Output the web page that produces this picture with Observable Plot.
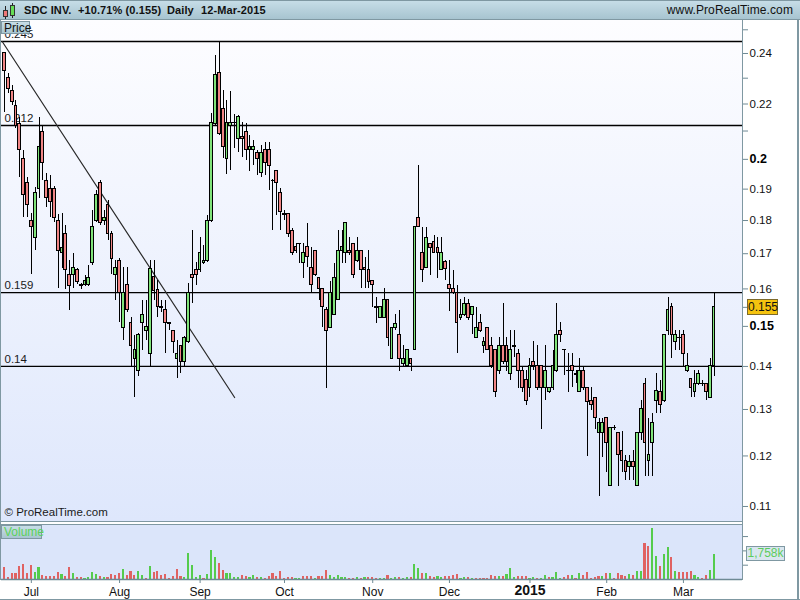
<!DOCTYPE html>
<html><head><meta charset="utf-8">
<script src="https://cdn.jsdelivr.net/npm/d3@7"></script>
<script src="https://cdn.jsdelivr.net/npm/@observablehq/plot@0.6"></script>
<style>
body{margin:0;background:#fff;font-family:"Liberation Sans",Arial,sans-serif;}
#wrap{position:relative;width:800px;height:600px;overflow:hidden;background:#fff;}
.abs{position:absolute;}
#hdr{left:0;top:0;width:800px;height:20px;background:linear-gradient(#c6dde7,#a7c4d0);border-top:1px solid #7f98a2;border-bottom:1px solid #7f98a2;box-sizing:border-box;}
.ht{position:absolute;top:3px;font-size:11px;font-weight:bold;color:#111;white-space:nowrap;letter-spacing:0.1px;}
.box{position:absolute;box-sizing:border-box;border:1px solid #7f98a2;background:linear-gradient(#c8dee7,#a8c5d1);font-size:12px;line-height:12px;padding:0 2px;white-space:nowrap;}
#pbg{left:1px;top:20px;width:741px;height:501px;background:linear-gradient(#fdfdff,#dee7fc);}
#vbg{left:1px;top:524px;width:741px;height:55px;background:#dbe5fa;}
.ln{position:absolute;background:#7f98a2;}
</style></head>
<body><div id="wrap">
<div id="pbg" class="abs"></div>
<div id="vbg" class="abs"></div>
<div id="price" class="abs" style="left:0;top:20px;"></div>
<div id="vol" class="abs" style="left:0;top:524px;"></div>
<div class="ln" style="left:0;top:20px;width:1px;height:560px;"></div>
<div class="ln" style="left:742px;top:20px;width:1px;height:560px;"></div>
<div class="ln" style="left:797px;top:0;width:2px;height:600px;"></div>
<div class="ln" style="left:0;top:521px;width:743px;height:1px;"></div>
<div class="ln" style="left:0;top:524px;width:743px;height:1px;"></div>
<div class="ln" style="left:0;top:599px;width:800px;height:1px;"></div>
<div id="hdr" class="abs">
  <div class="abs" style="left:5px;top:5px;width:1px;height:13px;background:#222"></div>
  <div class="abs" style="left:3px;top:9px;width:5px;height:7px;background:#ee7777;border:1px solid #333;box-sizing:border-box"></div>
  <div class="abs" style="left:12px;top:2px;width:1px;height:15px;background:#222"></div>
  <div class="abs" style="left:10px;top:4px;width:5px;height:11px;background:#66dd55;border:1px solid #333;box-sizing:border-box"></div>
  <span class="ht" style="left:24px">SDC INV.</span>
  <span class="ht" style="left:78px">+10.71% (0.155)</span>
  <span class="ht" style="left:167px">Daily</span>
  <span class="ht" style="left:201px">12-Mar-2015</span>
  <span class="ht" style="right:7px;font-weight:normal;font-size:12px;top:2px">www.ProRealTime.com</span>
</div>
<div class="box" style="left:1px;top:21px;width:29px;height:13px;color:#111">Price</div>
<div class="box" style="left:1px;top:525px;width:41px;height:14px;line-height:13px;color:#5ad25a">Volume</div>
<div id="lastP" class="abs" style="left:747px;width:31px;height:16px;box-sizing:border-box;border:1px solid #7d6a2a;background:#f5c30f;font-size:12px;line-height:14px;text-align:center;color:#111">0.155</div>
<div id="lastV" class="abs" style="left:746px;width:39px;height:15px;box-sizing:border-box;border:1px solid #7f98a2;background:#d9e6ef;font-size:12px;line-height:13px;text-align:center;color:#5ccc5c;white-space:nowrap">1,758k</div>
</div>
<script>
const open = [0.2400,0.2299,0.2248,0.2191,0.2127,0.2000,0.1919,0.1800,0.1748,0.1899,
0.2098,0.1928,0.1899,0.1899,0.1800,0.1701,0.1760,0.1640,0.1640,0.1652,
0.1610,0.1610,0.1610,0.1672,0.1800,0.1919,0.1800,0.1850,0.1760,0.1640,
0.1680,0.1497,0.1610,0.1510,0.1419,0.1390,0.1510,0.1489,0.1431,0.1632,
0.1596,0.1550,0.1542,0.1508,0.1487,0.1419,0.1449,0.1410,0.1459,0.1640,
0.1652,0.1652,0.1672,0.1680,0.1800,0.2127,0.2319,0.2180,0.2000,0.2117,
0.2129,0.2070,0.2080,0.2098,0.2031,0.2031,0.2021,0.1952,0.2031,0.2031,
0.1928,0.1959,0.1889,0.1819,0.1819,0.1769,0.1721,0.1730,0.1672,0.1721,
0.1660,0.1707,0.1629,0.1601,0.1542,0.1497,0.1531,0.1571,0.1709,0.1701,
0.1709,0.1730,0.1680,0.1709,0.1660,0.1652,0.1621,0.1550,0.1521,0.1521,
0.1571,0.1419,0.1497,0.1479,0.1407,0.1400,0.1419,0.1441,0.1809,0.1701,
0.1660,0.1730,0.1736,0.1718,0.1652,0.1675,0.1610,0.1601,0.1590,0.1521,
0.1531,0.1560,0.1531,0.1471,0.1510,0.1449,0.1497,0.1449,0.1441,0.1390,
0.1449,0.1449,0.1381,0.1449,0.1431,0.1390,0.1367,0.1350,0.1410,0.1400,
0.1400,0.1350,0.1339,0.1350,0.1388,0.1489,0.1441,0.1390,0.1400,0.1381,
0.1339,0.1390,0.1350,0.1320,0.1327,0.1249,0.1249,0.1280,0.1140,0.1260,
0.1249,0.1211,0.1190,0.1178,0.1188,0.1140,0.1249,0.1359,0.1190,0.1228,
0.1320,0.1339,0.1320,0.1487,0.1550,0.1459,0.1471,0.1479,0.1390,0.1371,
0.1339,0.1359,0.1359,0.1359,0.1327,0.1400];
const high = [0.2404,0.2319,0.2271,0.2213,0.2150,0.2031,0.1939,0.1822,0.1906,0.2150,
0.2120,0.1952,0.1945,0.1909,0.1819,0.1822,0.1785,0.1680,0.1701,0.1657,
0.1615,0.1637,0.1666,0.1831,0.1896,0.1928,0.1831,0.1863,0.1766,0.1680,
0.1686,0.1660,0.1660,0.1523,0.1477,0.1482,0.1568,0.1568,0.1680,0.1680,
0.1623,0.1568,0.1568,0.1510,0.1489,0.1464,0.1451,0.1474,0.1615,0.1769,
0.1675,0.1748,0.1724,0.1816,0.2165,0.2392,0.2450,0.2252,0.2213,0.2248,
0.2161,0.2157,0.2131,0.2127,0.2084,0.2066,0.2031,0.2048,0.2059,0.2059,
0.1932,0.1959,0.1902,0.1831,0.1819,0.1776,0.1730,0.1730,0.1730,0.1791,
0.1718,0.1709,0.1629,0.1601,0.1550,0.1621,0.1672,0.1769,0.1769,0.1791,
0.1748,0.1730,0.1748,0.1709,0.1689,0.1709,0.1621,0.1576,0.1550,0.1601,
0.1571,0.1497,0.1531,0.1542,0.1451,0.1441,0.1419,0.1779,0.1979,0.1779,
0.1779,0.1730,0.1754,0.1748,0.1748,0.1680,0.1680,0.1652,0.1610,0.1571,
0.1576,0.1571,0.1550,0.1550,0.1531,0.1471,0.1497,0.1471,0.1441,0.1471,
0.1560,0.1471,0.1489,0.1489,0.1441,0.1400,0.1390,0.1419,0.1461,0.1451,
0.1400,0.1451,0.1350,0.1439,0.1560,0.1510,0.1441,0.1431,0.1431,0.1390,
0.1419,0.1400,0.1350,0.1350,0.1327,0.1280,0.1280,0.1280,0.1260,0.1264,
0.1249,0.1251,0.1201,0.1201,0.1211,0.1249,0.1320,0.1371,0.1280,0.1291,
0.1383,0.1367,0.1479,0.1576,0.1560,0.1489,0.1489,0.1489,0.1431,0.1371,
0.1390,0.1390,0.1367,0.1359,0.1419,0.1590];
const low = [0.2168,0.2240,0.2195,0.2109,0.1939,0.1809,0.1809,0.1640,0.1709,0.1870,
0.1928,0.1841,0.1809,0.1794,0.1601,0.1657,0.1598,0.1542,0.1601,0.1612,
0.1598,0.1607,0.1607,0.1666,0.1794,0.1785,0.1785,0.1739,0.1640,0.1568,
0.1510,0.1464,0.1536,0.1398,0.1327,0.1376,0.1439,0.1464,0.1398,0.1568,
0.1523,0.1536,0.1431,0.1489,0.1431,0.1371,0.1383,0.1398,0.1456,0.1560,
0.1610,0.1646,0.1669,0.1675,0.1794,0.2120,0.2084,0.2003,0.1949,0.1962,
0.2038,0.2024,0.2006,0.1996,0.1959,0.1979,0.1945,0.1939,0.1945,0.1896,
0.1769,0.1816,0.1769,0.1800,0.1748,0.1695,0.1701,0.1672,0.1629,0.1660,
0.1587,0.1635,0.1568,0.1497,0.1348,0.1497,0.1531,0.1571,0.1672,0.1672,
0.1695,0.1629,0.1675,0.1601,0.1601,0.1601,0.1550,0.1507,0.1521,0.1521,
0.1449,0.1419,0.1489,0.1388,0.1398,0.1400,0.1388,0.1441,0.1779,0.1618,
0.1660,0.1637,0.1701,0.1629,0.1652,0.1623,0.1539,0.1585,0.1431,0.1515,
0.1526,0.1515,0.1479,0.1471,0.1484,0.1431,0.1439,0.1395,0.1327,0.1381,
0.1405,0.1388,0.1367,0.1422,0.1348,0.1339,0.1309,0.1327,0.1390,0.1343,
0.1257,0.1320,0.1336,0.1343,0.1386,0.1459,0.1378,0.1339,0.1350,0.1359,
0.1339,0.1343,0.1199,0.1298,0.1257,0.1119,0.1197,0.1166,0.1140,0.1253,
0.1138,0.1166,0.1150,0.1150,0.1150,0.1140,0.1232,0.1158,0.1158,0.1158,
0.1291,0.1291,0.1316,0.1477,0.1419,0.1439,0.1439,0.1398,0.1386,0.1327,
0.1327,0.1355,0.1353,0.1320,0.1327,0.1376];
const close = [0.2327,0.2259,0.2206,0.2117,0.2031,0.1880,0.1850,0.1779,0.1889,0.2042,
0.1986,0.1870,0.1857,0.1809,0.1709,0.1718,0.1652,0.1607,0.1660,0.1618,
0.1607,0.1621,0.1629,0.1779,0.1880,0.1791,0.1809,0.1760,0.1686,0.1660,
0.1590,0.1590,0.1542,0.1451,0.1441,0.1479,0.1531,0.1499,0.1657,0.1593,
0.1550,0.1548,0.1510,0.1507,0.1459,0.1431,0.1410,0.1471,0.1590,0.1629,
0.1640,0.1701,0.1680,0.1800,0.2131,0.2311,0.2091,0.2042,0.2131,0.2131,
0.2131,0.2150,0.2070,0.2031,0.2042,0.2042,0.2000,0.2021,0.1986,0.1976,
0.1927,0.1919,0.1828,0.1817,0.1760,0.1701,0.1707,0.1729,0.1701,0.1689,
0.1610,0.1640,0.1601,0.1550,0.1489,0.1590,0.1629,0.1709,0.1721,0.1791,
0.1701,0.1640,0.1709,0.1652,0.1652,0.1618,0.1610,0.1548,0.1550,0.1571,
0.1471,0.1497,0.1507,0.1419,0.1419,0.1441,0.1407,0.1779,0.1779,0.1652,
0.1748,0.1718,0.1701,0.1701,0.1701,0.1657,0.1601,0.1590,0.1510,0.1531,
0.1560,0.1521,0.1550,0.1497,0.1489,0.1459,0.1441,0.1400,0.1339,0.1449,
0.1410,0.1410,0.1441,0.1448,0.1390,0.1350,0.1320,0.1400,0.1400,0.1350,
0.1350,0.1390,0.1350,0.1400,0.1479,0.1479,0.1440,0.1389,0.1390,0.1380,
0.1390,0.1350,0.1316,0.1309,0.1280,0.1269,0.1269,0.1228,0.1260,0.1259,
0.1201,0.1190,0.1168,0.1188,0.1178,0.1249,0.1300,0.1228,0.1201,0.1269,
0.1341,0.1311,0.1479,0.1542,0.1479,0.1479,0.1470,0.1431,0.1400,0.1350,
0.1359,0.1381,0.1358,0.1339,0.1400,0.1550];
const volume = [810,120,400,440,925,1065,440,1000,510,860,
300,230,230,230,510,370,230,860,440,160,
160,90,160,510,370,230,160,160,370,300,
440,720,300,580,300,580,300,90,925,510,
580,300,370,90,230,720,230,160,1830,1000,
160,300,90,370,2040,1550,1135,650,440,440,
160,160,300,230,160,300,160,160,90,230,
440,200,580,90,160,160,90,90,230,230,
230,90,230,230,650,300,160,300,160,160,
90,90,120,90,160,160,160,90,90,90,
300,90,160,120,90,160,120,1065,790,440,
440,230,120,230,160,230,230,300,370,90,
160,120,90,90,90,90,90,300,230,230,
230,370,790,160,230,230,230,90,160,90,
90,300,160,160,510,90,160,300,300,90,
440,300,510,90,160,230,230,440,440,90,
440,300,230,370,300,580,580,2525,2315,3565,
1575,925,1740,2245,1550,580,510,510,510,580,
300,160,90,300,650,1758];

const monthLabels = ["Jul","Aug","Sep","Oct","Nov","Dec","2015","Feb","Mar"];
const monthIndex  = [7,30,51,73,96,116,137,157,177];
const levelValues = [0.245,0.212,0.159,0.14];
const levelLabels = ["0.245","0.212","0.159","0.14"];
const trendIndex = [-0.6,60];
const trendPrice = [0.2450,0.1327];
const priceTicks = [0.25,0.24,0.23,0.22,0.21,0.2,0.19,0.18,0.17,0.16,0.155,0.15,0.14,0.13,0.12,0.11];
const priceLabels = [0.24,0.22,0.19,0.18,0.17,0.16,0.14,0.13,0.12,0.11];
const priceBold = [0.2,0.15];
const volTicks = [1000,2000,3000];
const lastPrice = 0.155, lastVolume = 1758;

const upFill="#80e47a", downFill="#f08585", volUp="#55cc4c", volDown="#e06262", axisCol="#6e8a95";
const font = "'Liberation Sans', Arial, sans-serif";
const xDomain = [-0.78, 192.4];

const candles = open.map((o,i)=>({
  i, open:o, high:high[i], low:low[i], close:close[i], volume:volume[i],
  up: close[i] >= o,
  vup: i ? close[i] >= close[i-1] : close[i] >= o
}));
const trend = trendIndex.map((t,k)=>({i:t, p:trendPrice[k]}));

const price = Plot.plot({
  width:800, height:501, marginLeft:1, marginRight:58, marginTop:0, marginBottom:0,
  style:{background:"transparent", overflow:"visible", fontFamily:font},
  x:{domain:xDomain, axis:null},
  y:{type:"log", domain:[0.10719,0.25403], axis:null},
  marks:[
    Plot.ruleY(levelValues, {stroke:"#000", strokeWidth:1.3}),
    Plot.text(levelValues, {y:d=>d, text:(d,i)=>levelLabels[i], frameAnchor:"left", textAnchor:"start", dx:3, dy:-7, fontSize:11.5, fill:"#1a1a1a"}),
    Plot.line(trend, {x:"i", y:"p", stroke:"#2a2a2a", strokeWidth:1.2}),
    Plot.ruleX(candles, {x:"i", y1:"low", y2:"high", stroke:"#000", strokeWidth:1, shapeRendering:"crispEdges"}),
    Plot.rect(candles, {x1:d=>d.i-0.36, x2:d=>d.i+0.36, y1:"open", y2:"close", fill:d=>d.up?upFill:downFill, stroke:"#000", strokeWidth:1, shapeRendering:"crispEdges"}),
    Plot.axisY({anchor:"right", ticks:priceTicks, tickSize:5, tickFormat:()=>"", color:axisCol, label:null}),
    Plot.axisY({anchor:"right", ticks:priceLabels, tickSize:0, tickPadding:7, fontSize:11.5, color:"#111", tickFormat:d=>String(d), label:null}),
    Plot.axisY({anchor:"right", ticks:priceBold, tickSize:0, tickPadding:7, fontSize:12.5, fontWeight:"bold", color:"#000", tickFormat:d=>String(d), label:null}),
    Plot.text(["© ProRealTime.com"], {frameAnchor:"bottom-left", dx:3, dy:-6, textAnchor:"start", fontSize:11.5, fill:"#1a1a1a"})
  ]
});
document.getElementById("price").appendChild(price);

const vol = Plot.plot({
  width:800, height:76, marginLeft:1, marginRight:58, marginTop:0, marginBottom:21,
  style:{background:"transparent", overflow:"visible", fontFamily:font},
  x:{domain:xDomain, axis:null},
  y:{domain:[0,3843], axis:null},
  marks:[
    Plot.rect(candles, {x1:d=>d.i-0.28, x2:d=>d.i+0.28, y1:()=>0, y2:"volume", fill:d=>d.vup?volUp:volDown, shapeRendering:"crispEdges"}),
    Plot.ruleY([0], {stroke:axisCol, strokeWidth:1.5}),
    Plot.axisX({ticks:monthIndex, tickSize:4, tickFormat:()=>"", color:axisCol, label:null}),
    Plot.axisX({ticks:monthIndex.filter((d,k)=>monthLabels[k]!=="2015"), tickSize:0, tickPadding:8, fontSize:12, color:"#111",
      tickFormat:d=>monthLabels[monthIndex.indexOf(d)], label:null}),
    Plot.axisX({ticks:monthIndex.filter((d,k)=>monthLabels[k]==="2015"), tickSize:0, tickPadding:6, fontSize:14, fontWeight:"bold", color:"#111",
      tickFormat:d=>monthLabels[monthIndex.indexOf(d)], label:null}),
    Plot.axisY({anchor:"right", ticks:volTicks, tickSize:5, tickFormat:()=>"", color:axisCol, label:null})
  ]
});
document.getElementById("vol").appendChild(vol);

const yp = price.scale("y").apply(lastPrice);
document.getElementById("lastP").style.top = (20 + yp - 8) + "px";
const yv = vol.scale("y").apply(lastVolume);
document.getElementById("lastV").style.top = (524 + yv - 7.5) + "px";
</script>
</body></html>
